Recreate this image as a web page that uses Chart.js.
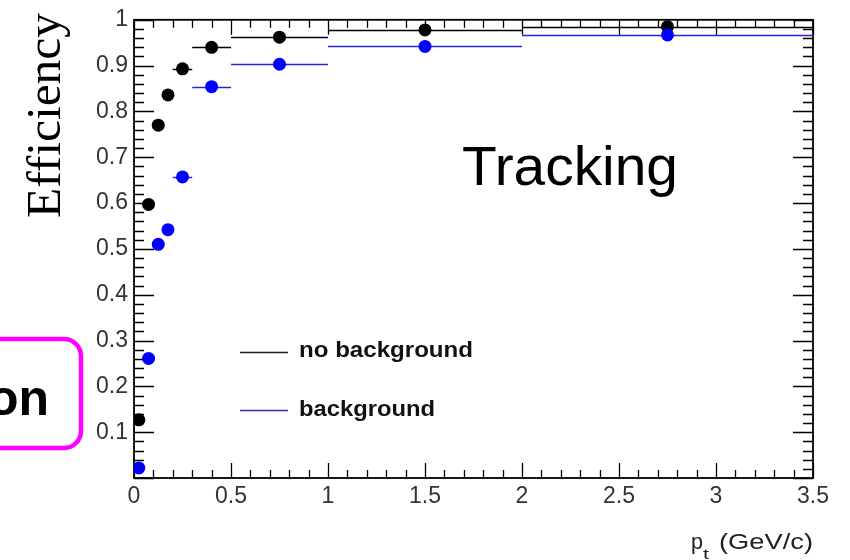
<!DOCTYPE html>
<html lang="en">
<head>
<meta charset="utf-8">
<title>Tracking efficiency</title>
<script src="https://cdn.jsdelivr.net/npm/chart.js@4.4.0/dist/chart.umd.min.js"></script>
<style>
  html, body { margin: 0; padding: 0; background: #fff; }
  canvas { display: block; }
</style>
</head>
<body>
<canvas id="eff" width="850" height="560"></canvas>
<script>
// pt bins (GeV/c): centre and edges
var binCenter = [0.025, 0.075, 0.125, 0.175, 0.25, 0.4, 0.75, 1.5, 2.75];
var binLow    = [0,     0.05,  0.1,   0.15,  0.2,  0.3, 0.5,  1.0, 2.0];
var binHigh   = [0.05,  0.1,   0.15,  0.2,   0.3,  0.5, 1.0,  2.0, 3.5];

// efficiency per bin
var effNoBkg = [0.127, 0.597, 0.770, 0.836, 0.893, 0.940, 0.962, 0.978, 0.985];
var effBkg   = [0.022, 0.261, 0.510, 0.542, 0.657, 0.854, 0.903, 0.942, 0.967];

var seriesNames = ['no background', 'background'];

var SANS = "'Liberation Sans', Arial, Helvetica, sans-serif";
var SERIF = "'Liberation Serif', 'Times New Roman', serif";

function points(eff) {
  return binCenter.map(function (x, i) {
    return { x: x, y: eff[i], lo: binLow[i], hi: binHigh[i] };
  });
}

// draw text squeezed/stretched to a given width
function fitText(ctx, str, x, y, w, font, color) {
  ctx.font = font;
  var sx = w / ctx.measureText(str).width;
  ctx.save();
  ctx.fillStyle = color || '#000';
  ctx.textAlign = 'left';
  ctx.textBaseline = 'alphabetic';
  ctx.translate(x, y);
  ctx.scale(sx, 1);
  ctx.fillText(str, 0, 0);
  ctx.restore();
}

// ROOT style frame: box with inward ticks on all sides, plus horizontal bin-width bars
var frameTicks = {
  id: 'frameTicks',
  beforeDatasetsDraw: function (chart) {
    var ctx = chart.ctx, a = chart.chartArea;
    var xs = chart.scales.x, ys = chart.scales.y;
    ctx.save();
    ctx.strokeStyle = '#000';
    ctx.lineWidth = 1.3;
    ctx.beginPath();
    for (var i = 0; i <= 35; i++) {
      var px = Math.round(xs.getPixelForValue(i / 10)) + 0.5;
      var len = i % 5 == 0 ? 15 : 8;
      ctx.moveTo(px, a.bottom); ctx.lineTo(px, a.bottom - len);
      ctx.moveTo(px, a.top); ctx.lineTo(px, a.top + len);
    }
    for (var j = 0; j <= 50; j++) {
      var py = Math.round(ys.getPixelForValue(j / 50)) + 0.5;
      var l = j % 5 == 0 ? 20 : 10;
      ctx.moveTo(a.left, py); ctx.lineTo(a.left + l, py);
      ctx.moveTo(a.right, py); ctx.lineTo(a.right - l, py);
    }
    ctx.stroke();
    ctx.lineWidth = 1.8;
    ctx.strokeRect(a.left, a.top, a.right - a.left, a.bottom - a.top);

    // bin width bars
    chart.data.datasets.forEach(function (ds) {
      ctx.strokeStyle = ds.barColor;
      ctx.lineWidth = 1.6;
      ctx.beginPath();
      ds.data.forEach(function (p) {
        var y = Math.round(ys.getPixelForValue(p.y)) + 0.5;
        ctx.moveTo(xs.getPixelForValue(p.lo), y);
        ctx.lineTo(xs.getPixelForValue(p.hi), y);
      });
      ctx.stroke();
    });
    ctx.restore();
  }
};

// titles, legend and labels around the frame
var decorations = {
  id: 'decorations',
  afterDraw: function (chart) {
    var ctx = chart.ctx;
    ctx.save();

    // y title
    ctx.save();
    ctx.translate(60, 218);
    ctx.rotate(-Math.PI / 2);
    fitText(ctx, 'Efficiency', 0, 0, 205, '48px ' + SERIF, '#000');
    ctx.restore();

    // x title: p_t (GeV/c)
    fitText(ctx, 'p', 691, 549, 12, '22px ' + SANS, '#222');
    fitText(ctx, 't', 703, 559, 6, '14px ' + SANS, '#222');
    fitText(ctx, '(GeV/c)', 719, 549, 94, '22px ' + SANS, '#222');

    // plot label
    fitText(ctx, 'Tracking', 462, 185, 216, '56px ' + SANS, '#000');

    // legend
    var legendY = [352, 410];
    var legendText = [357, 416];
    var legendW = [174, 136];
    var legendCol = ['#222', '#2a2ab0'];
    for (var k = 0; k < seriesNames.length; k++) {
      ctx.strokeStyle = legendCol[k];
      ctx.lineWidth = 1.6;
      ctx.beginPath();
      ctx.moveTo(240, legendY[k] + 0.5);
      ctx.lineTo(288, legendY[k] + 0.5);
      ctx.stroke();
      fitText(ctx, seriesNames[k], 299, legendText[k], legendW[k], 'bold 22px ' + SANS, '#111');
    }

    // magenta box at the left edge
    ctx.strokeStyle = '#ff00ff';
    ctx.lineWidth = 4.5;
    ctx.beginPath();
    ctx.roundRect(-40, 339, 121, 109, 17);
    ctx.stroke();
    ctx.fillStyle = '#000';
    ctx.font = 'bold 50px ' + SANS;
    ctx.textAlign = 'right';
    ctx.fillText('on', 49, 415);

    ctx.restore();
  }
};

var ctx = document.getElementById('eff').getContext('2d');
var chart = new Chart(ctx, {
  type: 'scatter',
  data: {
    datasets: [{
      label: seriesNames[0],
      data: points(effNoBkg),
      backgroundColor: '#000',
      borderWidth: 0,
      pointRadius: 6.5,
      barColor: '#000',
      order: 2
    }, {
      label: seriesNames[1],
      data: points(effBkg),
      backgroundColor: '#0000ff',
      borderWidth: 0,
      pointRadius: 6.5,
      barColor: '#2424d8',
      order: 1
    }]
  },
  options: {
    responsive: false,
    animation: false,
    devicePixelRatio: 1,
    layout: { padding: { left: 0, top: 16, right: 37, bottom: 0 } },
    plugins: {
      legend: { display: false },
      tooltip: { enabled: false }
    },
    scales: {
      x: {
        type: 'linear',
        min: 0,
        max: 3.5,
        grid: { display: false, drawTicks: false },
        border: { display: false },
        ticks: {
          stepSize: 0.5,
          padding: 5,
          color: '#333',
          font: { family: SANS, size: 23 },
          callback: function (v) { return String(+v.toFixed(1)); }
        },
        afterFit: function (scale) { scale.height = 82; }
      },
      y: {
        min: 0,
        max: 1,
        grid: { display: false, drawTicks: false },
        border: { display: false },
        ticks: {
          stepSize: 0.1,
          padding: 6,
          color: '#333',
          font: { family: SANS, size: 23 },
          callback: function (v) { return v === 0 ? '' : String(+v.toFixed(1)); }
        },
        afterFit: function (scale) { scale.width = 134; }
      }
    }
  },
  plugins: [frameTicks, decorations]
});
</script>
</body>
</html>
